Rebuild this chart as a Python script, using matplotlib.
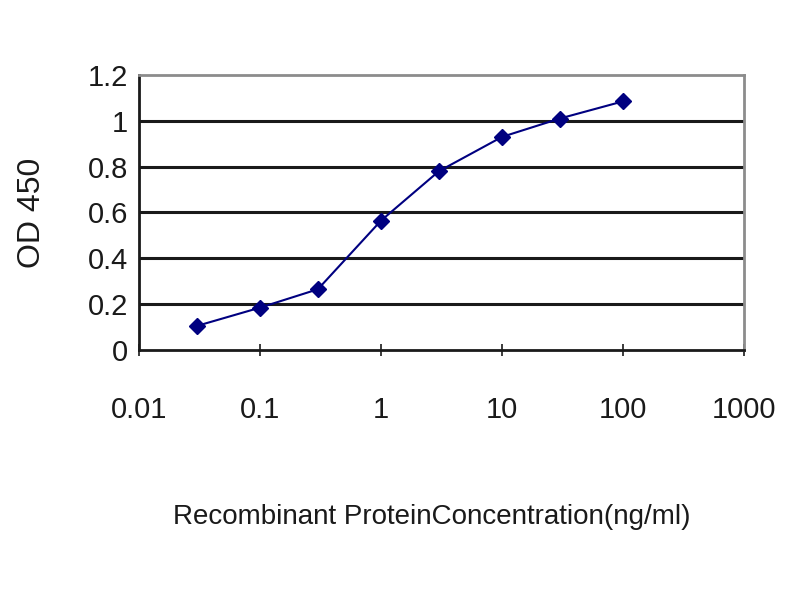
import numpy as np
import matplotlib.pyplot as plt

# concentrations (ng/ml) and OD 450 readings
conc = [0.03, 0.1, 0.3, 1, 3, 10, 30, 100]
od450 = [0.105, 0.185, 0.265, 0.565, 0.78, 0.93, 1.01, 1.085]

x_ticks = [0.01, 0.1, 1, 10, 100, 1000]
x_labels = ["0.01", "0.1", "1", "10", "100", "1000"]
y_ticks = [0, 0.2, 0.4, 0.6, 0.8, 1.0, 1.2]
y_labels = ["0", "0.2", "0.4", "0.6", "0.8", "1", "1.2"]

plt.rcParams['font.family'] = ['Liberation Sans', 'DejaVu Sans']

fig = plt.figure(figsize=(8, 6), dpi=100, facecolor='white')
ax = fig.add_axes([0.174, 0.4167, 0.756, 0.4583])

# horizontal gridlines
for yv in y_ticks[1:-1]:
    ax.axhline(yv, color='#1a1a1a', lw=2.2, zorder=1)

ax.plot(conc, od450, color='#000080', lw=1.5, marker='D', markersize=8,
        markerfacecolor='#000080', markeredgecolor='#000080', zorder=3)

ax.set_xscale('log')
ax.set_xlim(0.01, 1000)
ax.set_ylim(0, 1.2)
ax.set_xticks(x_ticks)
ax.set_xticklabels(x_labels)
ax.minorticks_off()
ax.set_yticks(y_ticks)
ax.set_yticklabels(y_labels)
ax.tick_params(axis='x', direction='inout', length=8, width=1.2, pad=29,
               labelsize=21, colors='#1a1a1a')
ax.tick_params(axis='y', length=0, pad=8, labelsize=21, colors='#1a1a1a')

for side in ['left', 'bottom']:
    ax.spines[side].set_color('#1a1a1a')
    ax.spines[side].set_linewidth(2)
for side in ['top', 'right']:
    ax.spines[side].set_color('#8c8c8c')
    ax.spines[side].set_linewidth(2)

fig.text(0.04, 0.645, "OD 450", rotation=90, fontsize=23, ha='center',
         va='center', color='#1a1a1a')
fig.text(0.54, 0.138, "Recombinant ProteinConcentration(ng/ml)", fontsize=20,
         ha='center', va='center', color='#1a1a1a')

fig.savefig('out.png', dpi=100, facecolor='white')
